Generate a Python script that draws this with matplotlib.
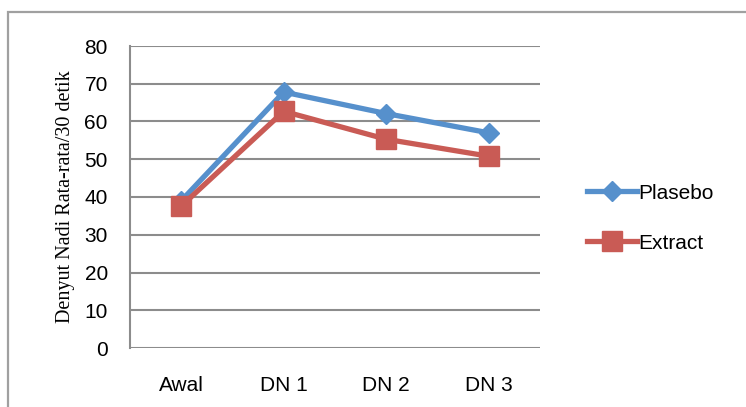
import matplotlib
matplotlib.use("Agg")
import matplotlib.pyplot as plt
from matplotlib.patches import Rectangle

# data
categories = ["Awal", "DN 1", "DN 2", "DN 3"]
plasebo = [39, 67.8, 62.1, 57.0]
extract = [37.6, 62.7, 55.3, 50.8]
yticks = [0, 10, 20, 30, 40, 50, 60, 70, 80]

sans = ["Liberation Sans", "DejaVu Sans"]

fig = plt.figure(figsize=(7.46, 4.07), dpi=100)
ax = fig.add_axes([130 / 746, 1 - 348 / 407, 410 / 746, 302 / 407])

# outer chart frame
fig.patches.append(Rectangle((8 / 746, -0.1), 1.2, 1 - 12 / 407 + 0.1,
                             transform=fig.transFigure, fill=False,
                             edgecolor="#a0a0a0", linewidth=1.6))

x = list(range(len(categories)))
ax.plot(x, plasebo, color="#5690cc", linewidth=3.8, marker="D",
        markersize=10, label="Plasebo", zorder=3)
ax.plot(x, extract, color="#c95b55", linewidth=3.8, marker="s",
        markersize=14, label="Extract", zorder=4)

ax.set_xlim(-0.5, 3.5)
ax.set_ylim(0, 80)
ax.set_yticks(yticks)
ax.set_xticks(x)
ax.set_xticklabels(categories, family=sans, fontsize=15)
ax.set_yticklabels([str(v) for v in yticks], family=sans, fontsize=15)
ax.tick_params(axis="both", length=0)
ax.tick_params(axis="x", pad=20)
ax.tick_params(axis="y", pad=16)

ax.grid(axis="y", color="#8c8c8c", linewidth=1.5)
ax.set_axisbelow(True)
for s in ["top", "right", "bottom"]:
    ax.spines[s].set_visible(False)
ax.spines["left"].set_color("#8c8c8c")
ax.spines["left"].set_linewidth(1.5)

ax.set_ylabel("Denyut Nadi Rata-rata/30 detik", family="Liberation Serif",
              fontsize=14.5, labelpad=7)

leg = ax.legend(loc="center left", bbox_to_anchor=(1.07, 0.43), frameon=False,
                prop={"family": sans, "size": 15}, handlelength=2.4,
                handletextpad=0.05, labelspacing=1.5)

fig.savefig("out.png", dpi=100)
